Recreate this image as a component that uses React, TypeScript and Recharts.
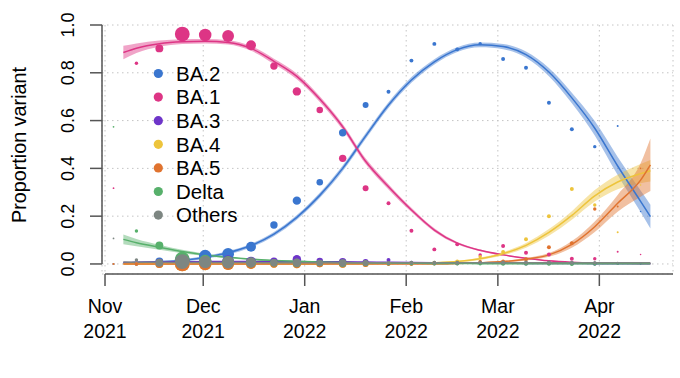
import React from 'react';
import { ComposedChart, Line, Area, Scatter, XAxis, YAxis, CartesianGrid, ReferenceLine } from 'recharts';

// weekly sampling dates (points) and number of sequences per week
const weeks = [
  '2021-11-03', '2021-11-10', '2021-11-17', '2021-11-24', '2021-12-01', '2021-12-08',
  '2021-12-15', '2021-12-22', '2021-12-29', '2022-01-05', '2022-01-12', '2022-01-19',
  '2022-01-26', '2022-02-02', '2022-02-09', '2022-02-16', '2022-02-23', '2022-03-02',
  '2022-03-09', '2022-03-16', '2022-03-23', '2022-03-30', '2022-04-06', '2022-04-13',
];
const weekCounts = [8, 30, 160, 560, 400, 360, 250, 140, 180, 110, 140, 90, 40, 40, 40, 40, 30, 40, 40, 40, 40, 30, 10, 6];

// observed proportions per week
const ba2Obs = [0, 0, 0.01, 0.015, 0.033, 0.042, 0.072, 0.163, 0.265, 0.342, 0.549, 0.665, 0.721, 0.851, 0.921, 0.898, 0.922, 0.858, 0.821, 0.675, 0.564, 0.491, 0.577, 0.22];
const ba1Obs = [0.317, 0.84, 0.902, 0.962, 0.958, 0.954, 0.915, 0.828, 0.722, 0.644, 0.442, 0.317, 0.254, 0.139, 0.061, 0.082, 0.038, 0.075, 0.047, 0.04, 0.022, 0.022, 0.051, 0.04];
const ba3Obs = [0, 0, 0.005, 0.01, 0.01, 0.012, 0.01, 0.012, 0.02, 0.012, 0.01, 0.008, 0.017, 0.005, 0.003, 0.003, 0.004, 0.003, 0.002, 0.003, 0.002, 0, 0, 0];
const ba4Obs = [0, 0, 0, 0, 0, 0, 0, 0, 0, 0, 0, 0, 0.002, 0.003, 0.005, 0.01, 0.03, 0.05, 0.103, 0.2, 0.314, 0.247, 0.133, 0.33];
const ba5Obs = [0, 0, 0, 0, 0, 0, 0, 0, 0, 0, 0, 0, 0, 0, 0.002, 0.003, 0.01, 0.01, 0.02, 0.07, 0.087, 0.23, 0.24, 0.4];
const deltaObs = [0.574, 0.138, 0.077, 0.02, 0.012, 0.008, 0.006, 0.005, 0.004, 0.004, 0.003, 0.003, 0.002, 0.002, 0.002, 0.002, 0.001, 0.001, 0.001, 0.001, 0, 0, 0, 0];
const othersObs = [0.107, 0.017, 0.005, 0.01, 0.008, 0.006, 0.006, 0.005, 0.005, 0.004, 0.004, 0.004, 0.004, 0.005, 0.005, 0.005, 0.006, 0.006, 0.006, 0.006, 0.005, 0.005, 0.005, 0.005];

// fitted curves with confidence bands
const fitDates = [
  '2021-11-06', '2021-11-10', '2021-11-17', '2021-11-24', '2021-12-01', '2021-12-08',
  '2021-12-15', '2021-12-22', '2021-12-29', '2022-01-05', '2022-01-12', '2022-01-19',
  '2022-01-26', '2022-02-02', '2022-02-09', '2022-02-16', '2022-02-23', '2022-03-02',
  '2022-03-09', '2022-03-16', '2022-03-23', '2022-03-30', '2022-04-06', '2022-04-13', '2022-04-16',
];
const ba2Fit = [0.004, 0.006, 0.009, 0.014, 0.028, 0.047, 0.077, 0.125, 0.195, 0.287, 0.4, 0.535, 0.665, 0.77, 0.846, 0.897, 0.917, 0.91, 0.876, 0.803, 0.695, 0.568, 0.41, 0.262, 0.198];
const ba2Lo = [0.001, 0.003, 0.005, 0.009, 0.022, 0.04, 0.069, 0.116, 0.185, 0.276, 0.388, 0.523, 0.653, 0.758, 0.835, 0.887, 0.907, 0.899, 0.863, 0.786, 0.673, 0.538, 0.372, 0.217, 0.148];
const ba2Hi = [0.007, 0.009, 0.013, 0.019, 0.034, 0.054, 0.085, 0.134, 0.205, 0.298, 0.412, 0.547, 0.677, 0.782, 0.857, 0.907, 0.927, 0.921, 0.889, 0.82, 0.717, 0.598, 0.448, 0.307, 0.248];
const ba1Fit = [0.885, 0.903, 0.922, 0.93, 0.932, 0.927, 0.902, 0.848, 0.785, 0.69, 0.574, 0.43, 0.323, 0.226, 0.142, 0.087, 0.057, 0.038, 0.024, 0.013, 0.007, 0.004, 0.003, 0.002, 0.002];
const ba1Lo = [0.857, 0.883, 0.909, 0.92, 0.923, 0.918, 0.892, 0.837, 0.773, 0.678, 0.562, 0.418, 0.312, 0.217, 0.135, 0.082, 0.053, 0.035, 0.022, 0.011, 0.006, 0.003, 0.002, 0.001, 0.001];
const ba1Hi = [0.913, 0.923, 0.935, 0.94, 0.941, 0.936, 0.912, 0.859, 0.797, 0.702, 0.586, 0.442, 0.334, 0.235, 0.149, 0.092, 0.061, 0.041, 0.026, 0.015, 0.008, 0.005, 0.004, 0.003, 0.003];
const ba3Fit = [0.006, 0.007, 0.008, 0.009, 0.01, 0.01, 0.01, 0.01, 0.01, 0.009, 0.009, 0.008, 0.007, 0.006, 0.005, 0.004, 0.003, 0.003, 0.002, 0.002, 0.002, 0.001, 0.001, 0.001, 0.001];
const ba4Fit = [0, 0, 0, 0, 0, 0, 0, 0, 0, 0, 0.001, 0.001, 0.002, 0.003, 0.005, 0.01, 0.022, 0.043, 0.078, 0.132, 0.203, 0.285, 0.343, 0.378, 0.39];
const ba4Lo = [0, 0, 0, 0, 0, 0, 0, 0, 0, 0, 0.001, 0.001, 0.002, 0.002, 0.003, 0.007, 0.017, 0.036, 0.068, 0.118, 0.185, 0.261, 0.313, 0.338, 0.345];
const ba4Hi = [0, 0, 0, 0, 0, 0, 0, 0, 0, 0, 0.001, 0.001, 0.002, 0.004, 0.007, 0.013, 0.027, 0.05, 0.088, 0.146, 0.221, 0.309, 0.373, 0.418, 0.435];
const ba5Fit = [0, 0, 0, 0, 0, 0, 0, 0, 0, 0, 0, 0, 0, 0, 0, 0.002, 0.005, 0.01, 0.02, 0.038, 0.082, 0.156, 0.254, 0.351, 0.415];
const ba5Lo = [0, 0, 0, 0, 0, 0, 0, 0, 0, 0, 0, 0, 0, 0, 0, 0.001, 0.003, 0.007, 0.015, 0.03, 0.068, 0.134, 0.219, 0.281, 0.305];
const ba5Hi = [0, 0, 0, 0, 0, 0, 0, 0, 0, 0, 0, 0, 0, 0, 0, 0.003, 0.007, 0.013, 0.025, 0.046, 0.096, 0.178, 0.289, 0.421, 0.525];
const deltaFit = [0.103, 0.089, 0.07, 0.052, 0.038, 0.028, 0.02, 0.015, 0.011, 0.008, 0.006, 0.005, 0.004, 0.003, 0.002, 0.002, 0.001, 0.001, 0.001, 0.001, 0.001, 0.001, 0.001, 0.001, 0.001];
const deltaLo = [0.083, 0.074, 0.06, 0.045, 0.033, 0.024, 0.017, 0.013, 0.009, 0.007, 0.005, 0.004, 0.003, 0.002, 0.001, 0.001, 0.001, 0.001, 0.001, 0.001, 0.001, 0.001, 0.001, 0.001, 0.001];
const deltaHi = [0.123, 0.104, 0.08, 0.059, 0.043, 0.032, 0.023, 0.017, 0.013, 0.009, 0.007, 0.006, 0.005, 0.004, 0.003, 0.003, 0.002, 0.002, 0.002, 0.002, 0.002, 0.002, 0.002, 0.002, 0.002];
const othersFit = [0.008, 0.007, 0.007, 0.006, 0.006, 0.006, 0.006, 0.005, 0.005, 0.005, 0.005, 0.005, 0.005, 0.005, 0.005, 0.005, 0.005, 0.005, 0.005, 0.005, 0.005, 0.005, 0.005, 0.005, 0.005];

const monthTicks = ['2021-11-01', '2021-12-01', '2022-01-01', '2022-02-01', '2022-03-01', '2022-04-01'];
const monthLabels = [['Nov', '2021'], ['Dec', '2021'], ['Jan', '2022'], ['Feb', '2022'], ['Mar', '2022'], ['Apr', '2022']];
const yTicks = [0, 0.2, 0.4, 0.6, 0.8, 1.0];

const FONT = '"Liberation Sans", Arial, Helvetica, sans-serif';
const DAY0 = Date.parse('2021-11-01');
const dayOf = (d: string) => (Date.parse(d) - DAY0) / 86400000;
const midWeek = (d: string) => dayOf(d) + 0.6;

const X_DOMAIN: [number, number] = [-0.92, 173.5];
const Y_MIN = -0.042;

const variants = [
  { name: 'BA.2', color: '#3a76cf', obs: ba2Obs, fit: ba2Fit, lo: ba2Lo, hi: ba2Hi },
  { name: 'BA.1', color: '#dd3585', obs: ba1Obs, fit: ba1Fit, lo: ba1Lo, hi: ba1Hi },
  { name: 'BA.3', color: '#6e35c9', obs: ba3Obs, fit: ba3Fit },
  { name: 'BA.4', color: '#edc43c', obs: ba4Obs, fit: ba4Fit, lo: ba4Lo, hi: ba4Hi },
  { name: 'BA.5', color: '#e0732f', obs: ba5Obs, fit: ba5Fit, lo: ba5Lo, hi: ba5Hi },
  { name: 'Delta', color: '#57b06b', obs: deltaObs, fit: deltaFit, lo: deltaLo, hi: deltaHi },
  { name: 'Others', color: '#7d8682', obs: othersObs, fit: othersFit },
];

const fitRows = fitDates.map((d, i) => {
  const row: any = { day: midWeek(d) };
  variants.forEach((v, k) => {
    row['fit' + k] = v.fit[i];
    if (v.lo && v.hi) row['band' + k] = [v.lo[i], v.hi[i]];
  });
  return row;
});

const monthDays = monthTicks.map(dayOf);

const YTick = (props: any) => {
  const { y, payload } = props;
  return (
    <text x={74} y={y} transform={`rotate(-90, 74, ${y})`} textAnchor="middle" fontSize={18} fontFamily={FONT} fill="#000">
      {Number(payload.value).toFixed(1)}
    </text>
  );
};

const XTick = (props: any) => {
  const { x, payload } = props;
  const i = monthDays.findIndex((m) => Math.abs(m - payload.value) < 1e-6);
  if (i < 0) return null;
  return (
    <g>
      <text x={x} y={312.7} textAnchor="middle" fontSize={19.5} fontFamily={FONT} fill="#000">{monthLabels[i][0]}</text>
      <text x={x} y={337.7} textAnchor="middle" fontSize={19.5} fontFamily={FONT} fill="#000">{monthLabels[i][1]}</text>
    </g>
  );
};

function App() {
  return (
    <div style={{ position: 'absolute', left: 0, top: 0, width: 680, height: 378, background: '#fff' }}>
      <ComposedChart width={680} height={378} data={fitRows} margin={{ top: 25, right: 7, bottom: 34, left: 0 }}>
        <CartesianGrid stroke="#c4c4c4" strokeDasharray="1.5 3.5" />
        <XAxis
          type="number"
          dataKey="day"
          domain={X_DOMAIN}
          allowDataOverflow
          ticks={monthDays}
          axisLine={false}
          tickSize={12}
          tickLine={{ stroke: '#555', strokeWidth: 1.5 }}
          tick={<XTick />}
          height={70}
        />
        <YAxis
          type="number"
          domain={[Y_MIN, 1]}
          allowDataOverflow
          ticks={yTicks}
          axisLine={false}
          tickSize={12}
          tickLine={{ stroke: '#555', strokeWidth: 1.5 }}
          tick={<YTick />}
          width={102}
        />
        <ReferenceLine segment={[{ x: X_DOMAIN[0], y: 0 }, { x: X_DOMAIN[0], y: 1 }]} stroke="#555" strokeWidth={1.5} ifOverflow="visible" />
        <ReferenceLine segment={[{ x: 0, y: Y_MIN }, { x: X_DOMAIN[1], y: Y_MIN }]} stroke="#555" strokeWidth={1.5} ifOverflow="visible" />
        {variants.map((v, k) => [
          v.lo ? (
            <Area
              key={'band' + k}
              dataKey={'band' + k}
              type="monotone"
              stroke="none"
              fill={v.color}
              fillOpacity={0.45}
              isAnimationActive={false}
            />
          ) : null,
          <Line
            key={'fit' + k}
            dataKey={'fit' + k}
            type="monotone"
            stroke={v.color}
            strokeWidth={1.5}
            dot={false}
            activeDot={false}
            isAnimationActive={false}
          />,
          <Scatter
            key={'obs' + k}
            data={weeks.map((d, i) => ({ day: midWeek(d), y: v.obs[i], n: weekCounts[i] }))}
            dataKey="y"
            isAnimationActive={false}
            shape={(p: any) => (
              <circle cx={p.cx} cy={p.cy} r={Math.sqrt(p.payload.n) / 3.2} fill={v.color} />
            )}
          />,
        ])}
      </ComposedChart>
      <svg width={680} height={378} style={{ position: 'absolute', left: 0, top: 0, pointerEvents: 'none' }}>
        <text
          x={25.5}
          y={145}
          transform="rotate(-90, 25.5, 145)"
          textAnchor="middle"
          fontSize={19.8}
          fontFamily={FONT}
          fill="#000"
        >
          Proportion variant
        </text>
        {variants.map((v, k) => (
          <g key={v.name}>
            <circle cx={158.3} cy={73.5 + k * 23.6} r={4.6} fill={v.color} />
            <text x={176} y={73.5 + k * 23.6 + 7.3} fontSize={20.5} fontFamily={FONT} fill="#000">
              {v.name}
            </text>
          </g>
        ))}
      </svg>
    </div>
  );
}

export default App;
